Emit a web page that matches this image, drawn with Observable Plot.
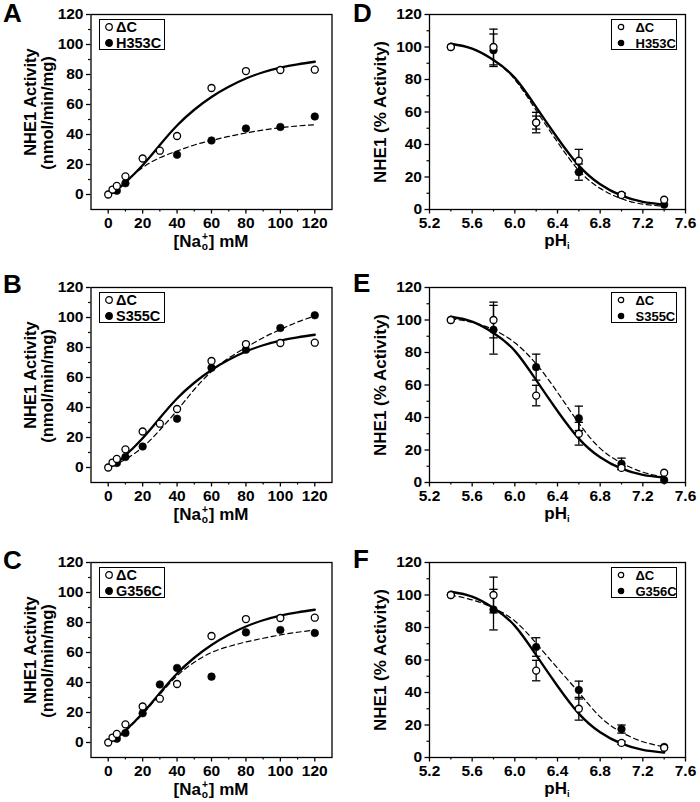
<!DOCTYPE html>
<html><head><meta charset="utf-8">
<script src="https://cdn.jsdelivr.net/npm/d3@7"></script>
<script src="https://cdn.jsdelivr.net/npm/@observablehq/plot@0.6"></script>
<style>
html,body{margin:0;padding:0;background:#fff;}
#fig{position:relative;width:700px;height:802px;background:#fff;overflow:hidden;
  font-family:"Liberation Sans",Arial,Helvetica,sans-serif;font-weight:bold;color:#000;}
.pl{position:absolute;}
.letter{position:absolute;font-size:26px;line-height:19px;}
.ylab{position:absolute;white-space:nowrap;line-height:1;transform:translate(-50%,-50%) rotate(-90deg);}
.xlab{position:absolute;white-space:nowrap;line-height:1;font-size:17px;transform:translate(-50%,-50%);}
.stk{display:inline-block;font-size:0.6em;line-height:0.95;vertical-align:-0.3em;text-align:center;margin:0 0.08em;}
.stk span{display:block;}
.legend{position:absolute;box-sizing:border-box;border:1.3px solid #000;background:#fff;}
.lrow{position:absolute;left:0;white-space:nowrap;}
.lrow svg{position:absolute;}
.lrow span{position:absolute;transform:translateY(-50%);line-height:13px;}
</style>
</head>
<body>
<div id="fig"></div>
<script>
// ---------- Data: [Na+]o dependence (panels A–C) ----------
const naX = [0, 2.5, 5, 10, 20, 30, 40, 60, 80, 100, 120];
const dcNaY = [0, 3.3, 5.7, 12.1, 24, 29.2, 39, 71, 82.3, 83, 83.2];
const h353X = [5, 10, 40, 60, 80, 100, 120];
const h353Y = [2.5, 7.5, 26.5, 36, 44, 45, 52];
const s355X = [5, 10, 20, 40, 60, 80, 100, 120];
const s355Y = [3, 7, 14, 32.5, 66.5, 78.5, 93, 101.5];
const g356X = [5, 10, 20, 30, 40, 60, 80, 100, 120];
const g356Y = [2.5, 6.3, 19.5, 38.7, 49.7, 43.9, 73.4, 75, 73];

// fitted curves
const naFitX = [2.5, 5, 10, 20, 30, 40, 50, 60, 70, 80, 90, 100, 110, 120];
const dcNaFit = [1.2, 3, 8, 19.5, 33, 46, 56.5, 65, 71.8, 77.3, 81.5, 84.6, 86.8, 88.5];
const h353Fit = [0.8, 2.5, 8.5, 18, 24.5, 29, 33, 36, 38.7, 41, 43, 44.5, 45.7, 46.5];
const s355Fit = [1, 2.5, 5.5, 13.5, 25, 38, 52, 64, 73, 80, 86.5, 92, 97, 101];
const g356Fit = [1, 3, 7.5, 19, 32, 44.5, 53.5, 60, 64, 67, 69.5, 71.7, 73.5, 75];

// ---------- Data: pHi dependence (panels D–F) ----------
const phX = [5.4, 5.8, 6.2, 6.6, 7.0, 7.4];
const dcPH = [100, 100, 53.5, 30, 9, 6];
const dcPHErr = [0, 11, 6.3, 7, 1, 0];
const h353PH = [100, 98, 53.5, 23, 9, 3];
const h353PHErr = [0, 10, 4, 5, 1, 0];
const s355PH = [100, 94, 71, 39.5, 11.5, 1.5];
const s355PHErr = [0, 15, 8, 7.5, 3.5, 0];
const g356PH = [100, 91, 68, 41.5, 17.5, 6.5];
const g356PHErr = [0, 12.5, 5.7, 5.5, 2.5, 0];

const phFitX = [5.4, 5.6, 5.8, 6.0, 6.2, 6.4, 6.6, 6.8, 7.0, 7.2, 7.4];
const dcPHFit = [102, 99, 92, 81, 63, 44, 27, 15.5, 8.5, 4.7, 3];
const h353PHFit = [102, 99, 92, 80, 61, 41.5, 24, 13, 6.6, 3.3, 2];
const s355PHFit = [100.7, 98.6, 94, 86, 73, 55.5, 36.5, 21, 12, 6.4, 3.3];
const g356PHFit = [100, 97, 92, 84, 70.3, 55, 40, 25, 15.5, 9.7, 6.6];

// ---------- Axes ----------
const naXDomain = [-10, 130], naYDomain = [-10, 120];
const phXDomain = [5.2, 7.6], phYDomain = [0, 120];
const naXTicks = [0, 20, 40, 60, 80, 100, 120];
const naXMinor = [10, 30, 50, 70, 90, 110];
const yTicks = [0, 20, 40, 60, 80, 100, 120];
const yMinor = [10, 30, 50, 70, 90, 110];
const phXTicks = [5.2, 5.6, 6.0, 6.4, 6.8, 7.2, 7.6];
const phXMinor = [5.4, 5.8, 6.2, 6.6, 7.0, 7.4];
const refName = "ΔC";

const panels = [
  {letter: "A", col: 0, row: 0, kind: "na", mut: "H353C", mx: h353X, my: h353Y, mfit: h353Fit},
  {letter: "B", col: 0, row: 1, kind: "na", mut: "S355C", mx: s355X, my: s355Y, mfit: s355Fit},
  {letter: "C", col: 0, row: 2, kind: "na", mut: "G356C", mx: g356X, my: g356Y, mfit: g356Fit},
  {letter: "D", col: 1, row: 0, kind: "ph", mut: "H353C", my: h353PH, me: h353PHErr, mfit: h353PHFit},
  {letter: "E", col: 1, row: 1, kind: "ph", mut: "S355C", my: s355PH, me: s355PHErr, mfit: s355PHFit},
  {letter: "F", col: 1, row: 2, kind: "ph", mut: "G356C", my: g356PH, me: g356PHErr, mfit: g356PHFit}
];

// ---------- Layout ----------
const frameTops = [14, 287, 562];
const frameH = 195;
const cols = [
  {svgLeft: 0, width: 340, ml: 90.5, mr: 8.5, letterX: 3, baselines: [22.5, 293.3, 569.3]},
  {svgLeft: 350, width: 350, ml: 79, mr: 15, letterX: 353, baselines: [22, 292, 568.5]}
];
const MT = 10, MB = 32;
const TICK_FS = 15.5;

const fig = document.getElementById("fig");
const pts = (xs, ys) => xs.map((x, i) => ({x, y: ys[i]}));
const errs = (xs, ys, es) => xs.map((x, i) => ({x, y: ys[i], lo: ys[i] - es[i], hi: ys[i] + es[i], e: es[i]})).filter(d => d.e > 0);
const capSymbol = {draw(ctx) { ctx.moveTo(-4.2, 0); ctx.lineTo(4.2, 0); }};

function errorMarks(list) {
  const caps = list.flatMap(d => [{x: d.x, y: d.lo}, {x: d.x, y: d.hi}]);
  return [
    Plot.ruleX(list, {x: "x", y1: "lo", y2: "hi", stroke: "#000", strokeWidth: 1.3}),
    Plot.dot(caps, {x: "x", y: "y", symbol: capSymbol, fill: "none", stroke: "#000", strokeWidth: 1.3})
  ];
}

for (const p of panels) {
  const c = cols[p.col];
  const fTop = frameTops[p.row];
  const isNa = p.kind === "na";
  const refPts = isNa ? pts(naX, dcNaY) : pts(phX, dcPH);
  const mutPts = isNa ? pts(p.mx, p.my) : pts(phX, p.my);
  const refFit = isNa ? pts(naFitX, dcNaFit) : pts(phFitX, dcPHFit);
  const mutFit = isNa ? pts(naFitX, p.mfit) : pts(phFitX, p.mfit);
  const eb = isNa ? [] : errorMarks([...errs(phX, dcPH, dcPHErr), ...errs(phX, p.my, p.me)]);

  const plot = Plot.plot({
    width: c.width,
    height: MT + frameH + MB,
    marginTop: MT, marginBottom: MB, marginLeft: c.ml, marginRight: c.mr,
    x: {type: "linear", domain: isNa ? naXDomain : phXDomain},
    y: {type: "linear", domain: isNa ? naYDomain : phYDomain},
    style: {fontFamily: '"Liberation Sans", Arial, sans-serif', fontWeight: "bold", fontSize: TICK_FS + "px", color: "#000", background: "transparent", overflow: "visible"},
    marks: [
      Plot.axisX({ticks: isNa ? naXTicks : phXTicks, tickSize: 4.5, tickPadding: 3, strokeWidth: 1.3, label: null, fontSize: TICK_FS,
        tickFormat: isNa ? (d => String(d)) : d3.format(".1f")}),
      Plot.axisX({ticks: isNa ? naXMinor : phXMinor, tickSize: 2.5, strokeWidth: 1.2, label: null, tickFormat: () => ""}),
      Plot.axisY({ticks: yTicks, tickSize: 4.5, tickPadding: 3, strokeWidth: 1.3, label: null, fontSize: TICK_FS, tickFormat: d => String(d)}),
      Plot.axisY({ticks: yMinor, tickSize: 2.5, strokeWidth: 1.2, label: null, tickFormat: () => ""}),
      ...eb,
      Plot.line(mutFit, {x: "x", y: "y", curve: "natural", stroke: "#000", strokeWidth: 1.2, strokeDasharray: "5,3.5"}),
      Plot.line(refFit, {x: "x", y: "y", curve: "natural", stroke: "#000", strokeWidth: 2.3}),
      Plot.dot(mutPts, {x: "x", y: "y", r: 3.8, fill: "#000", stroke: "#000", strokeWidth: 0.6}),
      Plot.dot(refPts, {x: "x", y: "y", r: 3.5, fill: "#fff", stroke: "#000", strokeWidth: 1.3}),
      Plot.frame({stroke: "#000", strokeWidth: 1.3})
    ]
  });
  const holder = document.createElement("div");
  holder.className = "pl";
  holder.style.left = c.svgLeft + "px";
  holder.style.top = (fTop - MT) + "px";
  holder.appendChild(plot);
  fig.appendChild(holder);

  const fLeft = c.svgLeft + c.ml;
  const fRight = c.svgLeft + c.width - c.mr;
  const fc = fTop + frameH / 2;

  // panel letter
  const L = document.createElement("div");
  L.className = "letter";
  L.textContent = p.letter;
  L.style.left = c.letterX + "px";
  L.style.top = (c.baselines[p.row] - 18.4) + "px";
  fig.appendChild(L);

  // y label(s)
  if (isNa) {
    const l1 = document.createElement("div");
    l1.className = "ylab"; l1.style.fontSize = "16.5px";
    l1.textContent = "NHE1 Activity";
    l1.style.left = "29.5px"; l1.style.top = (fc - 10) + "px";
    fig.appendChild(l1);
    const l2 = document.createElement("div");
    l2.className = "ylab"; l2.style.fontSize = "16.5px";
    l2.textContent = "(nmol/min/mg)";
    l2.style.left = "47px"; l2.style.top = (fc + 1.5) + "px";
    fig.appendChild(l2);
  } else {
    const l1 = document.createElement("div");
    l1.className = "ylab"; l1.style.fontSize = "17px";
    l1.textContent = "NHE1 (% Activity)";
    l1.style.left = "380px"; l1.style.top = fc + "px";
    fig.appendChild(l1);
  }

  // x label
  const xl = document.createElement("div");
  xl.className = "xlab";
  xl.innerHTML = isNa
    ? '[Na<span class="stk"><span>+</span><span>o</span></span>] mM'
    : 'pH<span style="font-size:0.55em;vertical-align:-0.35em">i</span>';
  xl.style.left = ((fLeft + fRight) / 2) + "px";
  xl.style.top = (fTop + frameH + 33) + "px";
  fig.appendChild(xl);

  // legend
  const lg = document.createElement("div");
  lg.className = "legend";
  const bw = 66, bh = 31;
  lg.style.width = bw + "px"; lg.style.height = bh + "px";
  lg.style.left = (isNa ? fLeft + 8.5 : fRight - 74) + "px";
  lg.style.top = (fTop + 5) + "px";
  const fs = isNa ? 14.5 : 13;
  const symX = isNa ? 8.7 : 9;
  const txtX = isNa ? 16 : 23.5;
  const rr = isNa ? 3.3 : 2.7;
  [[refName, false], [p.mut, true]].forEach(([name, filled], i) => {
    const row = document.createElement("div");
    row.className = "lrow";
    const cy = i === 0 ? 7 : 23;
    row.style.top = cy + "px";
    row.innerHTML = `<svg width="10" height="10" style="left:${symX - 5}px;top:-5px"><circle cx="5" cy="5" r="${rr}" fill="${filled ? "#000" : "#fff"}" stroke="#000" stroke-width="1.2"/></svg><span style="left:${txtX}px;font-size:${fs}px">${name}</span>`;
    lg.appendChild(row);
  });
  fig.appendChild(lg);
}
</script>
</body></html>
